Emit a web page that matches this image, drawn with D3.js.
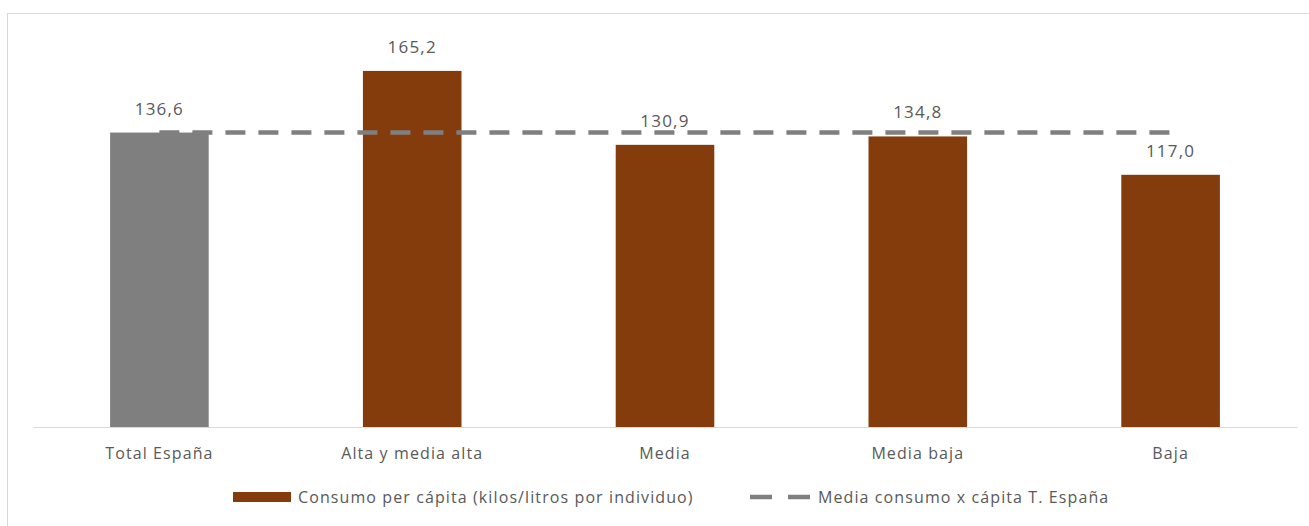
<!DOCTYPE html>
<html><head><meta charset="utf-8">
<script src="https://cdn.jsdelivr.net/npm/d3@7"></script>
<style>body{margin:0;background:#fff;}svg{display:block;font-family:"Open Sans",Lato,sans-serif;}</style>
</head><body>
<svg id="c" width="1309" height="526"></svg>
<script>
const categories = ["Total España","Alta y media alta","Media","Media baja","Baja"];
const values = [136.6,165.2,130.9,134.8,117.0];
const meanValue = 136.6;
const seriesNames = ["Consumo per cápita (kilos/litros por individuo)","Media consumo x cápita T. España"];

const svg = d3.select("#c");
const fmt = v => d3.format(".1f")(v).replace(".", ",");
const FONT = "'Open Sans',Lato,sans-serif";

// frame
svg.append("rect").attr("x",7.5).attr("y",13.5).attr("width",1320).attr("height",530)
  .attr("fill","none").attr("stroke","#d9d9d9").attr("stroke-width",1);

const x = d3.scaleBand().domain(categories).range([33,1297]).paddingInner(0.61).paddingOuter(0.305);
const y = d3.scaleLinear().domain([0,180]).range([427,39]);

svg.selectAll("rect.bar").data(values).join("rect").attr("class","bar")
  .attr("x",(d,i)=>x(categories[i])).attr("width",x.bandwidth())
  .attr("y",d=>y(d)).attr("height",d=>y(0)-y(d))
  .attr("fill",(d,i)=>i===0?"#7f7f7f":"#843c0c");

// axis
const ax = svg.append("g").attr("transform",`translate(0,${y(0)})`)
  .call(d3.axisBottom(x).tickSize(0).tickPadding(21));
ax.select(".domain").attr("stroke","#d9d9d9").attr("stroke-width",1.2);
ax.selectAll("text").attr("font-size",16).attr("fill","#595959").attr("font-family",FONT)
  .attr("letter-spacing","1.1px");

// mean line
const line = d3.line().x(d=>x(d)+x.bandwidth()/2).y(()=>y(meanValue));
svg.append("path").datum([categories[0],categories[categories.length-1]]).attr("d",line)
  .attr("fill","none").attr("stroke","#7f7f7f").attr("stroke-width",4.5).attr("stroke-dasharray","20,13");

// labels
svg.selectAll("text.lbl").data(values).join("text").attr("class","lbl")
  .attr("x",(d,i)=>x(categories[i])+x.bandwidth()/2).attr("y",d=>y(d)-18)
  .attr("text-anchor","middle").attr("font-size",17).attr("fill","#595959")
  .attr("letter-spacing","1.2px").text(d=>fmt(d));

// legend
const lg = svg.append("g");
lg.append("rect").attr("x",233).attr("y",492).attr("width",58).attr("height",10).attr("fill","#843c0c");
lg.append("text").attr("x",298).attr("y",503).attr("font-size",16).attr("fill","#595959")
  .attr("letter-spacing","1.1px").text(seriesNames[0]);
lg.append("line").attr("x1",750).attr("x2",811).attr("y1",497).attr("y2",497)
  .attr("stroke","#7f7f7f").attr("stroke-width",4.5).attr("stroke-dasharray","22,16");
lg.append("text").attr("x",818).attr("y",503).attr("font-size",16).attr("fill","#595959")
  .attr("letter-spacing","1.1px").text(seriesNames[1]);
</script>
</body></html>
